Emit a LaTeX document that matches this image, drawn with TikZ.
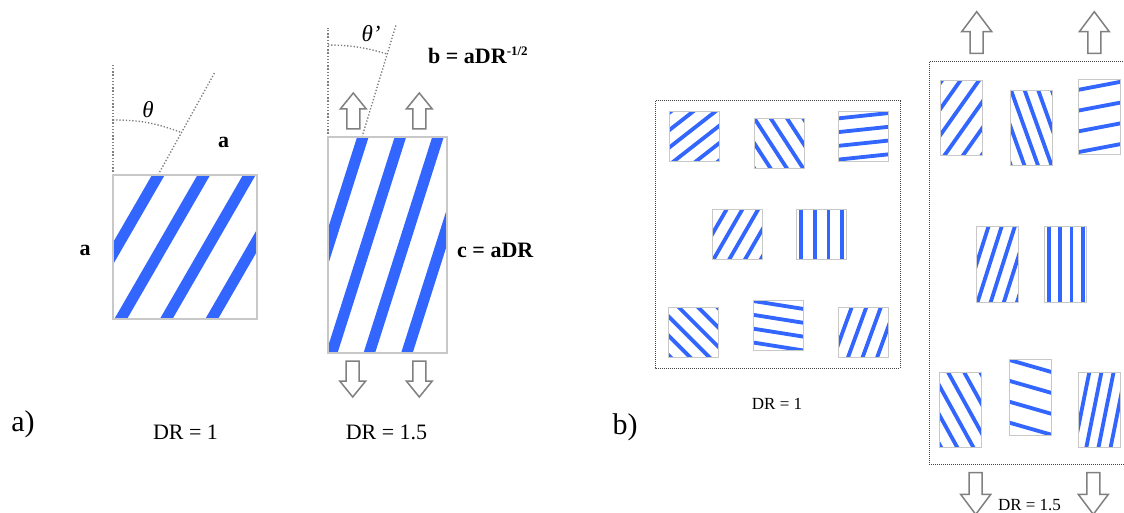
\documentclass[tikz,border=0pt]{standalone}
\usepackage{fontspec}
\setmainfont{Liberation Serif}
\definecolor{stripeblue}{RGB}{51,102,255}
\definecolor{boxgray}{RGB}{200,200,200}
\definecolor{arrowgray}{RGB}{128,128,128}
\tikzset{
  stripe/.style={draw=stripeblue},
  boxline/.style={draw=boxgray},
  hollow/.style={draw=arrowgray, fill=white, line width=1.5pt, line join=miter},
  angleline/.style={draw=gray, line width=1.4pt, dash pattern=on 1.3pt off 1.9pt},
  frameline/.style={draw=black!75, line width=1pt, dash pattern=on 1pt off 1pt},
  caption/.style={inner sep=0pt, font=\fontsize{22}{26}\selectfont},
  smallcap/.style={inner sep=0pt, font=\fontsize{17}{20}\selectfont},
  tag/.style={inner sep=0pt, font=\fontsize{30}{36}\selectfont},
  boldlbl/.style={inner sep=0pt, font=\fontsize{22}{26}\selectfont\bfseries},
  greek/.style={inner sep=0pt, font=\fontsize{23}{26}\selectfont\itshape}
}
% centre x, centre y, half side, stripe angle, phase, x stretch, y stretch, first and last stripe
\newcommand\stripebox[9]{%
  \begin{scope}[shift={(#1,#2)}, xscale=#6, yscale=#7]
    \begin{scope}
      \clip (-#3,-#3) rectangle (#3,#3);
      \foreach \k in {#8,...,#9}
        \draw[stripe, line width=0.153*#3, rotate=#4]
          ({(\k+#5)*0.547*#3},{-2*#3}) -- ({(\k+#5)*0.547*#3},{2*#3});
    \end{scope}
    \draw[boxline, line width=0.5+0.02*#3] (-#3,-#3) rectangle (#3,#3);
  \end{scope}}
% tip x, tip y, direction (1 up, -1 down), length, head half width, head length
\newcommand\hollowarrow[6]{%
  \draw[hollow, shift={(#1,#2)}, yscale=#3]
    (0,0) -- (#5,#6) -- (6.5,#6) -- (6.5,#4) -- (-6.5,#4) -- (-6.5,#6) -- (-#5,#6) -- cycle;}
\begin{document}
\begin{tikzpicture}[x=1pt, y=-1pt]
  \useasboundingbox (0,0) rectangle (1124,513);
  \clip (0,0) rectangle (1124,513);

  % a) DR = 1
  \draw[angleline] (113,175) -- (113,65);
  \draw[angleline] (158,175) -- (215,72);
  \draw[angleline] (113,120) to[bend left=10] (180,132);
  \stripebox{185}{247}{72}{-30}{0.5}{1}{1}{-2}{1}
  \node[greek] (th) at (148,110) {θ};
  \node[boldlbl] (sideTop) at (223.5,142.5) {a};
  \node[boldlbl] (sideLeft) at (85,250) {a};

  % a) DR = 1.5
  \draw[angleline] (328,137) -- (328,28);
  \draw[angleline] (362,137) -- (396,25);
  \draw[angleline] (328,45) to[bend left=8] (387,54);
  \stripebox{387.5}{245}{72}{-30}{0.43}{0.826}{1.5}{-2}{1}
  \node[greek] (thp) at (371,34) {θ’};
  \node[boldlbl, anchor=base west] (sideB) at (428,63.3)
    {b = aDR\raisebox{8pt}{\fontsize{13}{13}\selectfont -1/2}};
  \node[boldlbl, anchor=base west] (sideC) at (457,257) {c = aDR};
  \hollowarrow{353.3}{93}{1}{36}{13}{16}
  \hollowarrow{419.3}{93}{1}{36}{13}{16}
  \hollowarrow{352.7}{397}{-1}{36}{13}{16}
  \hollowarrow{419.3}{397}{-1}{36}{13}{16}

  \node[tag] (tagA) at (23,424) {a)};
  \node[caption] (drA1) at (185.5,432.5) {DR = 1};
  \node[caption] (drA2) at (386.5,432.5) {DR = 1.5};

  % b) DR = 1
  \draw[frameline] (655,101) rectangle (900,368);
  \stripebox{694.7}{136.3}{25}{-52}{0.5}{1}{1}{-3}{3}
  \stripebox{779}{143.7}{25}{33}{0.5}{1}{1}{-3}{3}
  \stripebox{863.8}{136.3}{25}{-84}{0.5}{1}{1}{-3}{3}
  \stripebox{737.2}{234.7}{25}{-30}{0.4}{1}{1}{-3}{3}
  \stripebox{821.7}{234.7}{25}{0}{0.5}{1}{1}{-3}{3}
  \stripebox{693.8}{332}{25}{45}{0.5}{1}{1}{-3}{3}
  \stripebox{778.7}{325.8}{25}{81}{0.5}{1}{1}{-3}{3}
  \stripebox{863.8}{332}{25}{-20}{0.55}{1}{1}{-3}{3}
  \node[smallcap] (drB1) at (777,403.5) {DR = 1};
  \node[tag] (tagB) at (625,427) {b)};

  % b) DR = 1.5
  \draw[frameline] (929,62) rectangle (1140,464);
  \stripebox{961.8}{117.8}{25}{-52}{0.5}{0.834}{1.51}{-3}{3}
  \stripebox{1031.3}{127.8}{25}{33}{0.5}{0.834}{1.51}{-3}{3}
  \stripebox{1099.3}{117}{25}{-84}{0.5}{0.834}{1.51}{-3}{3}
  \stripebox{997.5}{264.3}{25}{-30}{0.4}{0.834}{1.51}{-3}{3}
  \stripebox{1065.8}{264.3}{25}{0}{0.5}{0.834}{1.51}{-3}{3}
  \stripebox{960.8}{410}{25}{45}{0.5}{0.834}{1.51}{-3}{3}
  \stripebox{1030.3}{397.3}{25}{81}{0.5}{0.834}{1.51}{-3}{3}
  \stripebox{1099.3}{410}{25}{-20}{0.55}{0.834}{1.51}{-3}{3}
  \hollowarrow{976.7}{11.7}{1}{41.7}{15}{20}
  \hollowarrow{1094.3}{11.7}{1}{41.7}{15}{20}
  \hollowarrow{975.7}{514.4}{-1}{41.7}{15}{20}
  \hollowarrow{1093.3}{514.4}{-1}{41.7}{15}{20}
  \node[smallcap] (drB2) at (1029.5,505) {DR = 1.5};
\end{tikzpicture}
\end{document}
